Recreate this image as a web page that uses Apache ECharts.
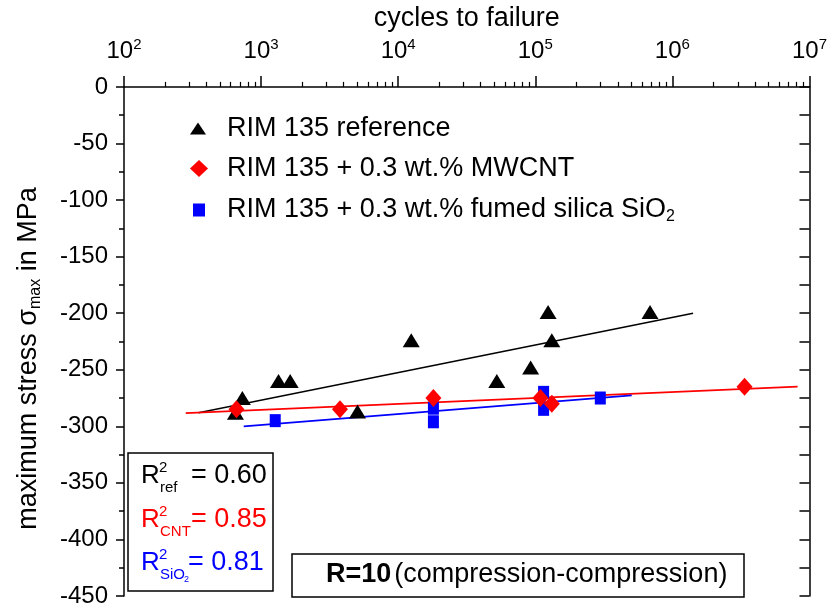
<!DOCTYPE html>
<html>
<head>
<meta charset="utf-8">
<script src="https://cdn.jsdelivr.net/npm/echarts@6/dist/echarts.min.js"></script>
<style>
html,body{margin:0;padding:0;background:#fff;}
#c{width:830px;height:608px;}
</style>
</head>
<body>
<div id="c"></div>
<script>
// ---------- data ----------
const xMinCycles = 100;
const xMaxCycles = 10000000;
const yMin = -450;
const yMax = 0;
const yInterval = 50;

const seriesNames = ['RIM 135 reference', 'RIM 135 + 0.3 wt.% MWCNT', 'RIM 135 + 0.3 wt.% fumed silica SiO2'];

const refCycles = [730, 650, 1340, 1630, 5050, 12450, 52400, 92500, 124000, 132000, 687000];
const refStress = [-275, -288, -260, -260, -287, -224, -260, -248, -199, -224, -199];

const cntCycles = [661, 3760, 18070, 109000, 132000, 3360000];
const cntStress = [-285, -285, -275, -275, -280, -265];

const sioCycles = [1268, 18070, 18070, 115000, 115000, 298000];
const sioStress = [-295, -284, -296, -270, -285, -275];

const refFitCycles = [350, 1416000];
const refFitStress = [-288, -200];
const cntFitCycles = [282, 8190000];
const cntFitStress = [-288.4, -265];
const sioFitCycles = [747, 505000];
const sioFitStress = [-300, -272.7];

const r2Subs = ['ref', 'CNT', 'SiO'];
const r2Values = ['0.60', '0.85', '0.81'];
const loadText = ['R=10', '(compression-compression)'];

// ---------- build ----------
const FONT = "'Liberation Sans', Arial, sans-serif";
const BLACK = '#000000', RED = '#ff0000', BLUE = '#0000ff';
const zip = (a, b) => a.map((v, i) => [v, b[i]]);

const minorLogs = [];
const eMin = Math.round(Math.log10(xMinCycles)), eMax = Math.round(Math.log10(xMaxCycles));
for (let e = eMin; e < eMax; e++) for (let m = 2; m <= 9; m++) minorLogs.push(e + Math.log10(m));

const chart = echarts.init(document.getElementById('c'));

const legendBase = {
  orient: 'vertical', symbolKeepAspect: false, selectedMode: false,
  textStyle: {fontSize: 27, color: '#000', fontFamily: FONT},
  formatter: function (name) {
    if (name === seriesNames[2]) return '{t|RIM 135 + 0.3 wt.% fumed silica SiO}{u|2}';
    return '{t|' + name + '}';
  }
};
const legendRich = {
  t: {fontSize: 27, fontFamily: FONT, color: '#000', lineHeight: 30},
  u: {fontSize: 16, fontFamily: FONT, color: '#000', lineHeight: 16, verticalAlign: 'bottom', padding: [14, 0, 0, 0]}
};

const r2Graphics = [];
r2Graphics.push({type: 'rect', x: 128, y: 453, shape: {x: 0, y: 0, width: 145, height: 138},
  style: {fill: '#fff', stroke: '#000', lineWidth: 1.5}, z: 100});
const r2Colors = [BLACK, RED, BLUE];
const rowY = [476, 520, 563];
const eqX = [191, 191, 188];
for (let i = 0; i < 3; i++) {
  const c = r2Colors[i], y = rowY[i];
  r2Graphics.push({type: 'text', x: 141, y: y, z: 101,
    style: {text: 'R', fontSize: 26, fontFamily: FONT, fill: c, verticalAlign: 'middle', align: 'left'}});
  r2Graphics.push({type: 'text', x: 159, y: y - 8, z: 101,
    style: {text: '2', fontSize: 15, fontFamily: FONT, fill: c, verticalAlign: 'middle', align: 'left'}});
  r2Graphics.push({type: 'text', x: 160, y: y + 12, z: 101,
    style: {text: r2Subs[i], fontSize: 15, fontFamily: FONT, fill: c, verticalAlign: 'middle', align: 'left'}});
  if (i === 2) {
    r2Graphics.push({type: 'text', x: 184, y: y + 17, z: 101,
      style: {text: '2', fontSize: 9, fontFamily: FONT, fill: c, verticalAlign: 'middle', align: 'left'}});
  }
  r2Graphics.push({type: 'text', x: eqX[i], y: y, z: 101,
    style: {text: '= ' + r2Values[i], fontSize: 27, fontFamily: FONT, fill: c, verticalAlign: 'middle', align: 'left'}});
}
r2Graphics.push({type: 'rect', x: 292, y: 554, shape: {x: 0, y: 0, width: 452, height: 43},
  style: {fill: '#fff', stroke: '#000', lineWidth: 1.5}, z: 100});
r2Graphics.push({type: 'text', x: 326, y: 575, z: 101,
  style: {text: '{b|' + loadText[0] + '}{n|' + loadText[1] + '}', verticalAlign: 'middle', align: 'left',
    rich: {b: {fontSize: 27, fontWeight: 'bold', fontFamily: FONT, fill: '#000'},
           n: {fontSize: 27, fontFamily: FONT, fill: '#000', padding: [0, 0, 0, 3]}}}});

const option = {
  animation: false,
  backgroundColor: '#fff',
  grid: {left: 123, right: 18, top: 86, bottom: 10, containLabel: false},
  legend: [
    Object.assign({}, legendBase, {data: [{name: seriesNames[0], icon: 'triangle'}], left: 185, top: 110,
      itemWidth: 16, itemHeight: 12, textStyle: Object.assign({}, legendBase.textStyle, {padding: [0, 0, 0, 16], rich: legendRich})}),
    Object.assign({}, legendBase, {data: [{name: seriesNames[1], icon: 'diamond'}], left: 185, top: 150,
      itemWidth: 18, itemHeight: 17, textStyle: Object.assign({}, legendBase.textStyle, {padding: [0, 0, 0, 14], rich: legendRich})}),
    Object.assign({}, legendBase, {data: [{name: seriesNames[2], icon: 'rect'}], left: 188, top: 190,
      itemWidth: 12, itemHeight: 13, textStyle: Object.assign({}, legendBase.textStyle, {padding: [0, 0, 0, 17], rich: legendRich})})
  ],
  xAxis: [
    {
      type: 'log', logBase: 10, min: xMinCycles, max: xMaxCycles, position: 'top',
      name: 'cycles to failure', nameLocation: 'middle', nameGap: 52,
      nameTextStyle: {fontSize: 27, color: '#000', fontFamily: FONT},
      axisLine: {show: true, lineStyle: {color: '#000', width: 1.5}},
      axisTick: {show: true, length: 11, lineStyle: {color: '#000', width: 1.5}},
      minorTick: {show: false},
      splitLine: {show: false},
      axisLabel: {
        margin: 22,
        formatter: function (v) { return '{b|10}{p|' + Math.round(Math.log10(v)) + '}'; },
        rich: {
          b: {fontSize: 24, fontFamily: FONT, color: '#000', lineHeight: 28},
          p: {fontSize: 15, fontFamily: FONT, color: '#000', lineHeight: 15, verticalAlign: 'top'}
        }
      }
    },
    {
      type: 'value', min: eMin, max: eMax, position: 'top',
      axisLine: {show: false},
      axisLabel: {show: false},
      splitLine: {show: false},
      axisTick: {show: true, length: 5, customValues: minorLogs, lineStyle: {color: '#000', width: 1.2}}
    }
  ],
  yAxis: [
    {
      type: 'value', min: yMin, max: yMax, interval: yInterval, position: 'left',
      name: '{a|maximum stress σ}{s|max}{a| in MPa}', nameLocation: 'middle', nameGap: 80,
      nameTextStyle: {
        padding: [0, 34, 0, 0],
        rich: {
          a: {fontSize: 27, fontFamily: FONT, color: '#000', lineHeight: 30},
          s: {fontSize: 16, fontFamily: FONT, color: '#000', lineHeight: 16, verticalAlign: 'bottom', padding: [20, 0, 0, 0]}
        }
      },
      axisLine: {show: true, lineStyle: {color: '#000', width: 1.5}},
      axisTick: {show: true, length: 8, lineStyle: {color: '#000', width: 1.5}},
      minorTick: {show: true, splitNumber: 2, length: 5, lineStyle: {color: '#000', width: 1.5}},
      splitLine: {show: false},
      axisLabel: {fontSize: 24, fontFamily: FONT, color: '#000', margin: 16}
    },
    {
      type: 'value', min: yMin, max: yMax, interval: yInterval, position: 'right',
      axisLine: {show: true, lineStyle: {color: '#000', width: 1.5}},
      axisTick: {show: true, inside: true, length: 10, lineStyle: {color: '#000', width: 1.5}},
      minorTick: {show: true, splitNumber: 2, length: 10, lineStyle: {color: '#000', width: 1.5}},
      splitLine: {show: false},
      axisLabel: {show: false}
    }
  ],
  series: [
    {type: 'line', name: 'fit ref', data: zip(refFitCycles, refFitStress), showSymbol: false, symbol: 'none',
      lineStyle: {color: BLACK, width: 1.5}, z: 2, silent: true},
    {type: 'line', name: 'fit cnt', data: zip(cntFitCycles, cntFitStress), showSymbol: false, symbol: 'none',
      lineStyle: {color: RED, width: 1.8}, z: 2, silent: true},
    {type: 'line', name: 'fit sio', data: zip(sioFitCycles, sioFitStress), showSymbol: false, symbol: 'none',
      lineStyle: {color: BLUE, width: 1.8}, z: 2, silent: true},
    {type: 'scatter', name: seriesNames[2], data: zip(sioCycles, sioStress), symbol: 'rect', symbolSize: [11, 13],
      itemStyle: {color: BLUE, opacity: 1}, z: 3},
    {type: 'scatter', name: seriesNames[0], data: zip(refCycles, refStress), symbol: 'triangle', symbolSize: [17, 14],
      itemStyle: {color: BLACK, opacity: 1}, z: 4},
    {type: 'scatter', name: seriesNames[1], data: zip(cntCycles, cntStress), symbol: 'diamond', symbolSize: [16, 18],
      itemStyle: {color: RED, opacity: 1}, z: 5}
  ],
  graphic: r2Graphics
};
chart.setOption(option);
</script>
</body>
</html>
